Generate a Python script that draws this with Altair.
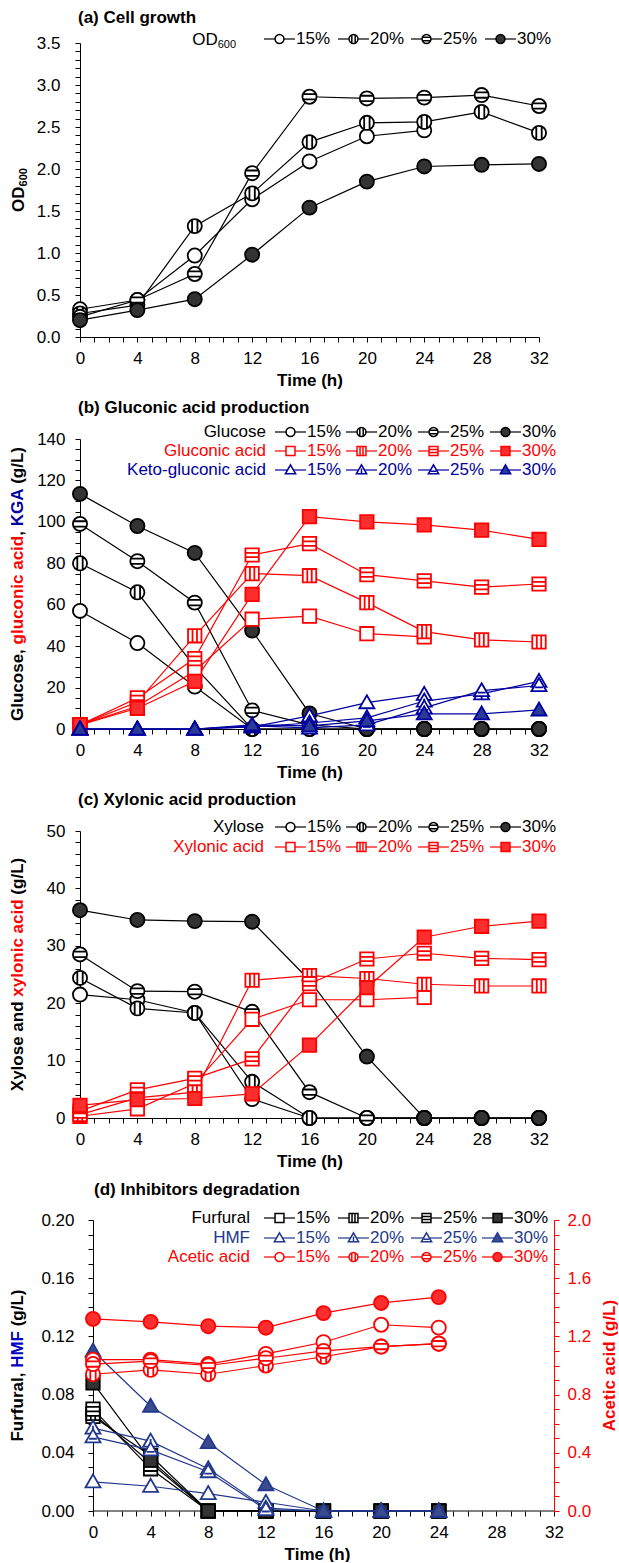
import altair as alt
import pandas as pd

FONT = "Liberation Sans, Arial, DejaVu Sans, sans-serif"
FS = 17
CONCS = ["15%", "20%", "25%", "30%"]
TIMES = [0, 4, 8, 12, 16, 20, 24, 28, 32]

# ---------------- (a) Cell growth, OD600 ----------------
od600_15 = [0.33, 0.44, 0.97, 1.64, 2.09, 2.39, 2.46]
od600_20 = [0.28, 0.38, 1.32, 1.71, 2.32, 2.55, 2.56, 2.68, 2.43]
od600_25 = [0.24, 0.44, 0.75, 1.95, 2.86, 2.84, 2.85, 2.88, 2.75]
od600_30 = [0.20, 0.32, 0.45, 0.98, 1.54, 1.85, 2.03, 2.05, 2.06]

# ---------------- (b) Gluconic acid production ----------------
glucose_15 = [57, 41.5, 20.5, 0, 0, 0, 0]
glucose_20 = [80, 66, 30, 0, 0, 0, 0, 0, 0]
glucose_25 = [99, 81, 61, 9, 2, 0, 0, 0, 0]
glucose_30 = [113.5, 98, 85, 47.5, 7.5, 0, 0, 0, 0]
gluconic_15 = [2, 11, 28, 53, 54.5, 46, 44.5]
gluconic_20 = [2, 13, 45, 75, 74, 61, 47, 43, 42]
gluconic_25 = [2, 15, 34, 84, 89.5, 74.5, 71.5, 68.5, 70]
gluconic_30 = [2, 10, 23, 65, 102.5, 100, 98.5, 96, 91.5]
kga_15 = [0, 0, 0, 1, 6.3, 12.7, 16.7]
kga_20 = [0, 0, 0, 1, 2.9, 5.4, 13.5, 17, 23]
kga_25 = [0, 0, 0, 1.5, 0.5, 2.0, 10.2, 18.5, 21]
kga_30 = [0, 0, 0, 2, 1.5, 3.9, 7.3, 7.3, 9.2]

# ---------------- (c) Xylonic acid production ----------------
xylose_15 = [21.5, 20.6, 18.3, 3.3, 0, 0, 0]
xylose_20 = [24.4, 19.1, 18.3, 6.3, 0, 0, 0, 0, 0]
xylose_25 = [28.5, 22.1, 22.0, 18.5, 4.5, 0, 0, 0, 0]
xylose_30 = [36.2, 34.5, 34.3, 34.2, 24.0, 10.7, 0, 0, 0]
xylonic_15 = [0.3, 1.6, 6.0, 17.2, 20.6, 20.6, 21.0]
xylonic_20 = [0.6, 3.5, 4.5, 24.0, 24.8, 24.3, 23.3, 23.0, 23.0]
xylonic_25 = [1.2, 4.9, 6.9, 10.3, 23.4, 27.7, 28.7, 27.8, 27.6]
xylonic_30 = [2.2, 3.2, 3.4, 4.2, 12.7, 22.7, 31.5, 33.4, 34.3]

# ---------------- (d) Inhibitors degradation ----------------
furfural_15 = [0.065, 0.038, 0, 0, 0, 0, 0]
furfural_20 = [0.067, 0.033, 0, 0, 0, 0, 0]
furfural_25 = [0.070, 0.029, 0, 0, 0, 0, 0]
furfural_30 = [0.088, 0.035, 0, 0, 0, 0, 0]
hmf_15 = [0.020, 0.017, 0.012, 0.006, 0, 0, 0]
hmf_20 = [0.057, 0.048, 0.029, 0.002, 0, 0, 0]
hmf_25 = [0.051, 0.042, 0.027, 0.001, 0, 0, 0]
hmf_30 = [0.110, 0.072, 0.047, 0.018, 0, 0, 0]
acetic_15 = [1.04, 1.04, 1.01, 1.08, 1.16, 1.28, 1.26]
acetic_20 = [0.94, 0.97, 0.94, 1.00, 1.06, 1.13, 1.15]
acetic_25 = [1.01, 1.03, 1.00, 1.05, 1.10, 1.13, 1.15]
acetic_30 = [1.32, 1.30, 1.27, 1.26, 1.36, 1.43, 1.47]

# ---------------- styling ----------------
BLACK = "#000000"
DARK = "#333333"
WHITE = "#FFFFFF"
RED = "#FF0000"
REDFILL = "#FF2E2E"
BLUE = "#0000A0"
BLUEFILL = "#2B3A94"
NAVY = "#22388C"
NAVYFILL = "#3A4B8E"

CIRCLE = "M1,0A1,1,0,1,1,-1,0A1,1,0,1,1,1,0Z"
CIRC = [CIRCLE,
        CIRCLE + "M-0.38,-0.92L-0.38,0.92M0.38,-0.92L0.38,0.92",
        CIRCLE + "M-0.92,-0.38L0.92,-0.38M-0.92,0.38L0.92,0.38",
        CIRCLE]
SQ = "M-1,-1L1,-1L1,1L-1,1Z"
SQS = [SQ, SQ + "M-0.33,-1L-0.33,1M0.33,-1L0.33,1",
       SQ + "M-1,-0.33L1,-0.33M-1,0.33L1,0.33", SQ]
TR = "M0,-1.15L1.15,0.85L-1.15,0.85Z"
TRS = [TR, TR + "M0,-0.35L0,0.85", TR + "M-0.6,0.3L0.6,0.3", TR]

W = 459
WD = 474
XD0 = -0.902
HA, HB, HC, HD = 294, 290, 287, 291
SPACING = 102

DUMMY = pd.DataFrame({"k": [0]})

BOLDW = {' ': 278, ',': 278, '(': 333, ')': 333, '/': 278, 'A': 722, 'F': 611,
         'G': 778, 'H': 722, 'K': 722, 'L': 611, 'M': 833, 'X': 667, 'a': 556,
         'c': 556, 'd': 611, 'e': 556, 'f': 333, 'g': 611, 'i': 278, 'l': 278,
         'n': 611, 'o': 611, 'r': 389, 's': 556, 't': 333, 'u': 611, 'x': 556,
         'y': 556, 'O': 778, 'D': 722}


def tw(s, fs=FS):
    return sum(BOLDW.get(ch, 556) for ch in s) * fs / 1000.0


def series_df(d):
    rows = []
    for c in CONCS:
        for t, v in zip(TIMES, d[c]):
            rows.append({"t": t, "v": v, "c": c})
    return pd.DataFrame(rows)


AXIS_STYLE = dict(labelFont=FONT, titleFont=FONT, labelFontSize=FS, titleFontSize=FS,
                  titleFontWeight="bold", titleColor=BLACK, domainWidth=1, tickWidth=1,
                  grid=False, labelFlush=False, labelOverlap=False)


def x_factory(xdom, domain_line=True):
    axis = alt.Axis(values=list(range(0, 33)),
                    labelExpr="datum.value % 4 == 0 ? datum.label : ''",
                    title="Time (h)", tickSize=5, labelPadding=8, titlePadding=6,
                    domain=domain_line, domainColor=BLACK, tickColor=BLACK,
                    labelColor=BLACK, **AXIS_STYLE)
    scale = alt.Scale(domain=xdom, nice=False, zero=False)
    return lambda f: alt.X(f"{f}:Q", scale=scale, axis=axis)


def y_factory(ymax, step, major, fmt, pad, orient="left", offset=0, color=BLACK):
    n = int(round(ymax / step))
    vals = [round(i * step, 6) for i in range(n + 1)]
    k = 1.0 / major
    expr = f"abs(datum.value * {k} - round(datum.value * {k})) < 0.000001 ? datum.label : ''"
    axis = alt.Axis(values=vals, labelExpr=expr, format=fmt, title=None, tickSize=5,
                    labelPadding=pad, orient=orient, offset=offset, domainColor=color,
                    tickColor=color, labelColor=color, **AXIS_STYLE)
    scale = alt.Scale(domain=[0, ymax], nice=False, zero=False)
    return lambda f: alt.Y(f"{f}:Q", scale=scale, axis=axis)


def group(df, X, Y, line_color, stroke, paths, fills, size):
    line = alt.Chart(df).mark_line(color=line_color, strokeWidth=1.2).encode(
        x=X("t"), y=Y("v"), detail="c:N")
    pts = alt.Chart(df).mark_point(stroke=stroke, strokeWidth=1.8, opacity=1, size=size).encode(
        x=X("t"), y=Y("v"),
        shape=alt.Shape("c:N", scale=alt.Scale(domain=CONCS, range=paths), legend=None),
        fill=alt.Fill("c:N", scale=alt.Scale(domain=CONCS, range=fills), legend=None))
    return [line, pts]


def legend_row(X, Y, px2x, py2y, ypx, label, label_right, seg_starts, color, stroke,
               paths, fills, seg_len=31, size=80):
    recs = []
    for c, s0 in zip(CONCS, seg_starts):
        recs.append({"x0": px2x(s0), "x1": px2x(s0 + seg_len), "xm": px2x(s0 + seg_len / 2),
                     "xl": px2x(s0 + seg_len + 1), "y": py2y(ypx), "c": c})
    df = pd.DataFrame(recs)
    rule = alt.Chart(df).mark_rule(color=color, strokeWidth=1.2).encode(
        x=X("x0"), x2="x1", y=Y("y"))
    mk = alt.Chart(df).mark_point(stroke=stroke, strokeWidth=1.5, opacity=1, size=size).encode(
        x=X("xm"), y=Y("y"),
        shape=alt.Shape("c:N", scale=alt.Scale(domain=CONCS, range=paths), legend=None),
        fill=alt.Fill("c:N", scale=alt.Scale(domain=CONCS, range=fills), legend=None))
    txt = alt.Chart(df).mark_text(align="left", baseline="middle", color=color,
                                  fontSize=FS, font=FONT).encode(
        x=X("xl"), y=Y("y"), text="c:N")
    layers = [rule, mk, txt]
    if label is not None:
        ldf = pd.DataFrame({"x": [px2x(label_right)], "y": [py2y(ypx)], "s": [label]})
        lab = alt.Chart(ldf).mark_text(align="right", baseline="middle", color=color,
                                       fontSize=FS, font=FONT).encode(
            x=X("x"), y=Y("y"), text="s:N")
        layers.append(lab)
    return layers


def label(x, y, s, color=BLACK, bold=False, size=FS, angle=0, align="left", baseline="middle"):
    kw = dict(align=align, baseline=baseline, color=color, fontSize=size, font=FONT,
              fontWeight="bold" if bold else "normal")
    if angle:
        kw["angle"] = angle
    return alt.Chart(DUMMY).mark_text(**kw).encode(
        x=alt.value(x), y=alt.value(y), text=alt.value(s))


def vtitle(x, yc, parts):
    total = sum(tw(p) for p, _ in parts)
    start = yc + total / 2
    out = []
    cum = 0
    for p, col in parts:
        lead = len(p) - len(p.lstrip(" "))
        y = start - cum - lead * 0.278 * FS
        out.append(label(x, y, p.strip(), color=col, bold=True, angle=270, align="left"))
        cum += tw(p)
    return out


def lay(layers):
    return alt.layer(*layers).resolve_scale(shape="independent", fill="independent")


FILL_C = [WHITE, WHITE, WHITE, DARK]
FILL_R = [WHITE, WHITE, WHITE, REDFILL]
FILL_B = [WHITE, WHITE, WHITE, BLUEFILL]
FILL_N = [WHITE, WHITE, WHITE, NAVYFILL]

# ================= panel (a) =================
Xa = x_factory([0, 32])
Ya = y_factory(3.5, 0.1, 0.5, ".1f", 15)
px2x_a = lambda p: p / W * 32
py2y_a = lambda p: 3.5 - p / HA * 3.5
dfa = series_df({"15%": od600_15, "20%": od600_20, "25%": od600_25, "30%": od600_30})
LA = []
LA.append(alt.Chart(DUMMY).mark_rule(opacity=0).encode(
    x=alt.value(-80), x2=alt.value(-79), y=alt.value(-43)))
LA += group(dfa, Xa, Ya, BLACK, BLACK, CIRC, FILL_C, 200)
LA += legend_row(Xa, Ya, px2x_a, py2y_a, -4, None, None, [184, 258, 331, 405],
                 BLACK, BLACK, CIRC, FILL_C)
LA.append(label(156 - 18.3, 2, "OD", align="right", baseline="alphabetic"))
LA.append(label(156, 5, "600", size=11, align="right", baseline="alphabetic"))
LA.append(label(-2, -25, "(a) Cell growth", bold=True))
od_len = tw("OD") + tw("600", 11)
LA.append(label(-56, HA / 2 + od_len / 2, "OD", bold=True, angle=270, baseline="alphabetic"))
LA.append(label(-53, HA / 2 + od_len / 2 - tw("OD"), "600", bold=True, size=11, angle=270,
                baseline="alphabetic"))
panel_a = lay(LA).properties(width=W, height=HA)

# ================= panel (b) =================
Xb = x_factory([0, 32])
Yb = y_factory(140, 5, 20, "d", 10)
px2x_b = lambda p: p / W * 32
py2y_b = lambda p: 140 - p / HB * 140
SEG_B = [195, 266, 338, 410]
LB = []
LB += group(series_df({"15%": glucose_15, "20%": glucose_20, "25%": glucose_25, "30%": glucose_30}),
            Xb, Yb, BLACK, BLACK, CIRC, FILL_C, 200)
LB += group(series_df({"15%": gluconic_15, "20%": gluconic_20, "25%": gluconic_25, "30%": gluconic_30}),
            Xb, Yb, RED, RED, SQS, FILL_R, 180)
LB += group(series_df({"15%": kga_15, "20%": kga_20, "25%": kga_25, "30%": kga_30}),
            Xb, Yb, BLUE, BLUE, TRS, FILL_B, 170)
LB += legend_row(Xb, Yb, px2x_b, py2y_b, -7, "Glucose", 186, SEG_B, BLACK, BLACK, CIRC, FILL_C)
LB += legend_row(Xb, Yb, px2x_b, py2y_b, 12, "Gluconic acid", 186, SEG_B, RED, RED, SQS, FILL_R)
LB += legend_row(Xb, Yb, px2x_b, py2y_b, 31, "Keto-gluconic acid", 186, SEG_B, BLUE, BLUE, TRS, FILL_B)
LB.append(label(-2, -31, "(b) Gluconic acid production", bold=True))
LB += vtitle(-62, HB / 2, [("Glucose, ", BLACK), ("gluconic acid", RED), (", ", BLACK),
                           ("KGA", BLUE), (" (g/L)", BLACK)])
panel_b = lay(LB).properties(width=W, height=HB)

# ================= panel (c) =================
Xc = x_factory([0, 32])
Yc = y_factory(50, 2, 10, "d", 10)
px2x_c = lambda p: p / W * 32
py2y_c = lambda p: 50 - p / HC * 50
LC = []
LC += group(series_df({"15%": xylose_15, "20%": xylose_20, "25%": xylose_25, "30%": xylose_30}),
            Xc, Yc, BLACK, BLACK, CIRC, FILL_C, 200)
LC += group(series_df({"15%": xylonic_15, "20%": xylonic_20, "25%": xylonic_25, "30%": xylonic_30}),
            Xc, Yc, RED, RED, SQS, FILL_R, 180)
LC += legend_row(Xc, Yc, px2x_c, py2y_c, -4, "Xylose", 184, SEG_B, BLACK, BLACK, CIRC, FILL_C)
LC += legend_row(Xc, Yc, px2x_c, py2y_c, 16, "Xylonic acid", 184, SEG_B, RED, RED, SQS, FILL_R)
LC.append(label(-2, -31, "(c) Xylonic acid production", bold=True))
LC += vtitle(-62, HC / 2, [("Xylose and ", BLACK), ("xylonic acid", RED), (" (g/L)", BLACK)])
panel_c = lay(LC).properties(width=W, height=HC)

# ================= panel (d) =================
Xd = x_factory([XD0, 32], domain_line=False)
YdL = y_factory(0.2, 0.01, 0.04, ".2f", 14, offset=-13)
YdR = y_factory(2.0, 0.1, 0.4, ".1f", 8, orient="right", color=RED)
px2x_d = lambda p: XD0 + p / WD * (32 - XD0)
py2y_d = lambda p: 0.2 - p / HD * 0.2
SEG_D = [184, 258, 331, 402]
base_df = pd.DataFrame({"a": [0], "b": [32], "y": [0]})
LDL = []
LDL.append(alt.Chart(base_df).mark_rule(color=BLACK, strokeWidth=1).encode(
    x=Xd("a"), x2="b", y=YdL("y")))
LDL += group(series_df({"15%": furfural_15, "20%": furfural_20, "25%": furfural_25, "30%": furfural_30}),
             Xd, YdL, BLACK, BLACK, SQS, FILL_C, 180)
LDL += group(series_df({"15%": hmf_15, "20%": hmf_20, "25%": hmf_25, "30%": hmf_30}),
             Xd, YdL, NAVY, NAVY, TRS, FILL_N, 170)
LDL += legend_row(Xd, YdL, px2x_d, py2y_d, -2, "Furfural", 170, SEG_D, BLACK, BLACK, SQS, FILL_C)
LDL += legend_row(Xd, YdL, px2x_d, py2y_d, 18, "HMF", 170, SEG_D, NAVY, NAVY, TRS, FILL_N)
LDL += legend_row(Xd, YdL, px2x_d, py2y_d, 37, "Acetic acid", 170, SEG_D, RED, RED, CIRC, FILL_R)
LDL.append(label(14, -30, "(d) Inhibitors degradation", bold=True))
LDL += vtitle(-62, HD / 2, [("Furfural, ", BLACK), ("HMF", "#0000C0"), (" (g/L)", BLACK)])
LDL += vtitle(530, HD / 2, [("Acetic acid (g/L)", RED)])
LDR = group(series_df({"15%": acetic_15, "20%": acetic_20, "25%": acetic_25, "30%": acetic_30}),
            Xd, YdR, RED, RED, CIRC, FILL_R, 200)
panel_d = alt.layer(lay(LDL), lay(LDR)).resolve_scale(
    y="independent", shape="independent", fill="independent").properties(width=WD, height=HD)

chart = alt.vconcat(panel_a, panel_b, panel_c, panel_d, spacing=SPACING, bounds="flush",
                    padding=0, background="white").configure_view(stroke=None)

chart.save("out.html", embed_options={"renderer": "svg", "actions": False})
